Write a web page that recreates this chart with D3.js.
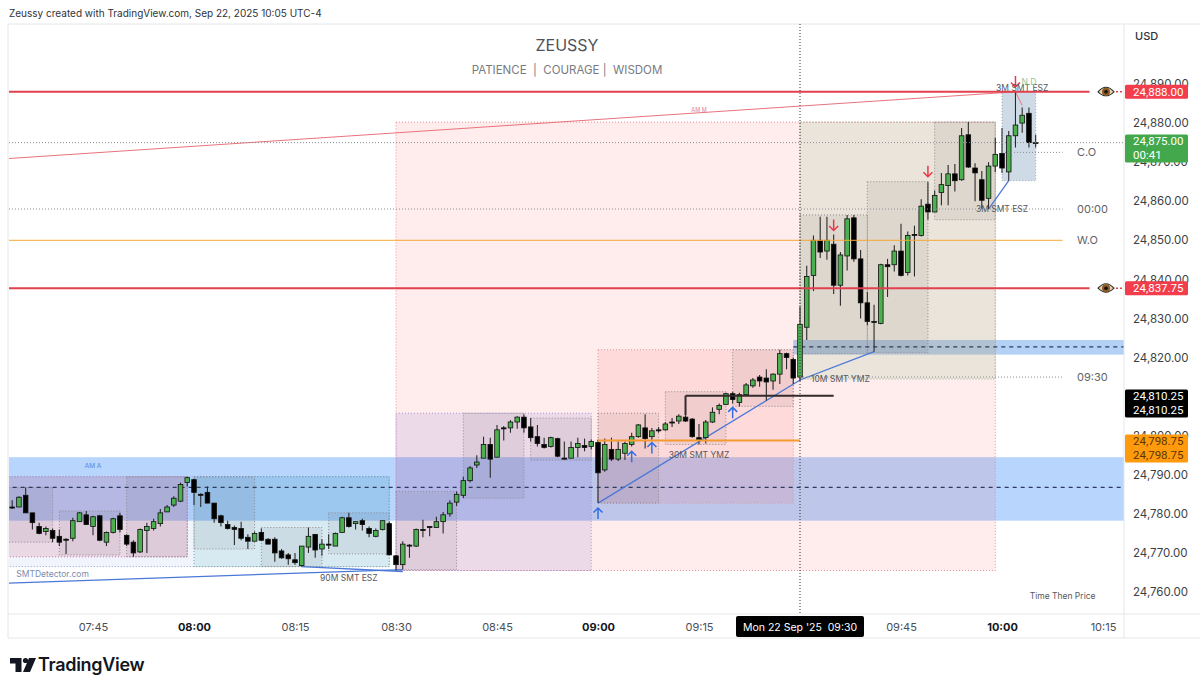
<!DOCTYPE html>
<html>
<head>
<meta charset="utf-8">
<script src="https://cdn.jsdelivr.net/npm/d3@7/dist/d3.min.js"></script>
<style>
body { margin: 0; background: #fff; }
text { font-family: Inter, "Noto Sans", sans-serif; }
</style>
</head>
<body>
<script>
var w = 1200;
var h = 690;

// one minute bars, first one is 07:33
var firstBar = "07:33";
var opens = [
24781.75,24781.75,24784.75,24780.25,24776.75,24775.5,24775.75,24774.25,24773.5,24773.75,
24778,24779.75,24776.75,24779.5,24772.75,24775.25,24779.5,24774.5,24772.75,24770.25,
24775.75,24776.25,24777.5,24780.5,24782.25,24783.25,24788,24788.75,24785,24785.5,
24782.75,24779.5,24777.25,24776.5,24776.25,24774,24773,24775.25,24773.5,24773.5,
24770.5,24769.5,24768.25,24766.75,24771.5,24774.75,24771,24772.25,24771.75,24775.25,
24779,24777.5,24778.25,24776.25,24774.25,24776,24777.5,24769.25,24767,24772,
24771.75,24776,24776.75,24776.5,24778,24780,24783,24784.75,24788.5,24792.5,
24794.25,24797.75,24794.5,24802,24802,24803.5,24804.75,24802.25,24799.75,24797.75,
24797.25,24799.25,24794.25,24794.25,24797,24797.5,24797.25,24798.25,24791.25,24796.5,
24794,24795.5,24797.75,24799.75,24802,24799.75,24801.5,24801.5,24803.5,24803.75,
24804.75,24804.25,24799.5,24799.5,24803.5,24806.75,24808,24810.75,24808.5,24810.5,
24812.75,24815,24814.75,24814,24815.75,24821,24819.5,24815,24827.75,24841,
24850,24847.25,24849,24838.5,24846,24855.75,24845.25,24834,24829.25,24828.75,
24843.75,24843.75,24847.25,24841.75,24851.5,24851.25,24859.25,24857.25,24862.25,24864,
24867,24865.5,24877,24868.5,24865.5,24860.75,24869,24872.25,24867.5,24876.75,
24880,24882.5,24875];
var highs = [
24783.5,24784.5,24786.75,24780.25,24777.75,24776.75,24776.25,24776,24773.75,24779,
24780.5,24780.75,24779.5,24779.75,24775.5,24779,24780.25,24774.75,24773.25,24776.25,
24777.75,24778.75,24781.25,24782.25,24784.5,24788,24789.5,24789,24785.25,24787,
24782.75,24779.75,24778.25,24777,24778,24774.75,24775.5,24776.25,24773.75,24774,
24771,24770,24770,24771.75,24776.5,24774.75,24773.5,24774.75,24775.25,24779.25,
24780.25,24778,24778.75,24776.75,24776.25,24778.25,24778,24769.5,24773,24772.25,
24776.25,24778.5,24776.75,24779.25,24780.5,24783.5,24785.75,24789.5,24792.25,24795,
24799.75,24799.5,24802.75,24802.5,24804,24805,24805.5,24804.5,24802.75,24799.5,
24799.75,24799.5,24798.5,24798.5,24799.5,24799.25,24799,24799,24799.25,24799.5,
24798.5,24798.5,24800.75,24803,24805.5,24802,24802.25,24803.5,24804.5,24805.5,
24805.25,24804.5,24803,24804,24807.25,24808.25,24811,24811.25,24811,24813.5,
24814.75,24815.5,24817,24816,24822,24821.25,24820,24833,24843.5,24851.25,
24856,24856,24851.5,24847,24856.5,24856.5,24847.5,24836.75,24833.5,24844,
24845.25,24848.75,24854.25,24852.25,24853.75,24860.5,24865,24862.75,24867.25,24869.25,
24869.5,24878.75,24880.25,24869.75,24867.75,24870,24876.25,24878.75,24878,24888,
24884,24884,24877];
var lows = [
24781.25,24781.75,24780.25,24776,24774.75,24774.5,24772.75,24771.75,24769.75,24773,
24778,24777.25,24774.5,24773,24771.75,24775,24775.25,24771.75,24769,24770,
24770,24775.75,24776.75,24780.5,24781.75,24783,24787,24782.25,24781.75,24782.75,
24777.75,24776.75,24776,24772,24773.25,24771,24773,24773,24772.25,24767.75,
24768.5,24767,24767,24766.5,24770,24768.75,24769.25,24771,24771.75,24775.25,
24776.5,24776,24775.75,24774,24774,24775.75,24769.5,24765.5,24765.75,24768.75,
24771.5,24774,24774.25,24776.5,24775,24779.25,24782,24784,24788,24791.75,
24794.25,24789.25,24794.5,24798.75,24800.75,24801.75,24800.75,24798.5,24797.25,24796.75,
24797,24794.5,24794,24794.25,24794.5,24796,24796.5,24782.75,24790.75,24793.5,
24793.5,24793.75,24797.25,24799.5,24796.75,24798.75,24800.75,24801.25,24802.25,24803,
24803.5,24799.5,24797.75,24798,24803.25,24805.5,24808,24808.25,24807.5,24810.25,
24812.25,24812.5,24809,24811.75,24813.25,24817,24813.25,24814,24824.5,24837,
24845.5,24845,24836.25,24833.25,24842.25,24844.5,24830,24828.25,24821.5,24828.5,
24835.5,24842,24840.75,24841,24840.75,24851,24855.25,24857.25,24859,24859,
24862.5,24865.25,24868.5,24860,24858,24858,24867.5,24867.25,24865.25,24873.75,
24877.5,24873.75,24873.75];
var closes = [
24781.5,24784.25,24780.25,24777.75,24775,24776.25,24773.75,24772.75,24773.25,24778.25,
24780.25,24777.25,24779.25,24773.25,24775.25,24778.75,24776,24772.25,24770,24776,
24776.75,24778,24780.25,24781.75,24784,24787.5,24789.25,24785.5,24784.75,24782.75,
24778.75,24777.75,24776.25,24776,24773.75,24773,24775,24773.25,24772.25,24770,
24768.75,24768.5,24767.5,24771.75,24774.25,24770.75,24772.25,24772,24775,24779,
24776.75,24778,24777.25,24775,24775.75,24778.25,24769.5,24767,24772.25,24771.75,
24776,24775.75,24776.5,24778,24779.75,24782.75,24785,24788.5,24791.75,24793.25,
24797.75,24794,24801.5,24801.75,24803.5,24804.75,24802,24799.5,24798,24797,
24799.5,24794.75,24794,24797,24798,24797,24798.5,24790.5,24797.75,24794,
24796.5,24798,24799.75,24802.75,24799.25,24801.25,24801.25,24803,24803.25,24805,
24803.75,24799.75,24799,24803.5,24806,24807.75,24810.75,24809.25,24810.5,24813,
24814.25,24814,24813.75,24815.75,24821,24820,24814.75,24828.5,24840.75,24850,
24847,24850,24838.5,24846.25,24855.5,24845.25,24834,24829.25,24829,24843.75,
24843.25,24847.25,24841,24851.25,24851.25,24858.75,24857.25,24861.5,24864.25,24867,
24865.25,24876.75,24868.75,24867.25,24860.25,24869,24872,24868.5,24876.75,24879.5,
24882,24875,24875];

var timeTicks = ["07:45","08:00","08:15","08:30","08:45","09:00","09:15","09:45","10:00","10:15"];
var boldTicks = ["08:00","09:00","10:00"];
var priceTicks = [24760,24770,24780,24790,24800,24810,24820,24830,24840,24850,24860,24870,24880,24890];

// start, end, top price, bottom price, kind
var zones = [
  ["07:20","08:29",24789.5,24766.5,"lav"],
  ["08:30","09:59",24880.25,24765.5,"pink"],
  ["07:20","07:59",24789.5,24769,"rose"],
  ["07:20","07:39",24786.75,24772.75,"sub"],
  ["07:40","07:49",24780.75,24769.5,"sub"],
  ["07:50","07:59",24789.5,24769,"sub"],
  ["08:00","08:29",24789.5,24766.5,"teal"],
  ["08:00","08:09",24789.5,24771,"sub"],
  ["08:10","08:19",24776.5,24766.5,"sub"],
  ["08:20","08:29",24780.25,24769.75,"sub"],
  ["08:30","08:59",24805.75,24765.5,"purple"],
  ["08:30","08:39",24785.75,24765.75,"sub"],
  ["08:40","08:49",24805.75,24784,"sub"],
  ["08:50","08:59",24804.5,24793.75,"sub"],
  ["09:00","09:29",24822,24782.75,"rose2"],
  ["09:00","09:09",24805.75,24782.75,"sub"],
  ["09:10","09:19",24811.25,24797.75,"sub"],
  ["09:20","09:29",24822,24807.5,"sub"],
  ["09:30","09:59",24880.25,24814.5,"olive"],
  ["09:30","09:40",24856.5,24821,"sub"],
  ["09:40","09:49",24865,24821.25,"sub"],
  ["09:50","09:59",24880.25,24855.25,"sub"],
  ["10:00","10:05",24888,24865.25,"steel"]
];
var zoneFill = {
  lav: "rgba(80,110,225,0.08)", pink: "rgba(255,85,85,0.11)", rose: "rgba(205,95,130,0.19)",
  teal: "rgba(0,150,136,0.10)", purple: "rgba(80,60,210,0.10)", rose2: "rgba(255,70,70,0.11)",
  olive: "rgba(120,190,120,0.15)", steel: "rgba(30,90,140,0.22)", sub: "rgba(70,60,70,0.075)"
};
var zoneLine = {
  lav: "#8a9bd8", pink: "#ec8f98", rose: "#c583a0", teal: "#6aa8a0", purple: "#a99bdc",
  rose2: "#d99aa0", olive: "#a4b09a", steel: "#9aa6ad", sub: "#8f8a8f"
};

// session bands
var bands = [
  {start: "07:20", end: "10:30", top: 24794.5, bottom: 24778.25, mid: 24786.75, tone: "rgba(66,145,250,0.38)"},
  {start: "09:29", end: "10:30", top: 24824.5, bottom: 24820.75, mid: 24822.75, tone: "rgba(55,135,225,0.38)"}
];

// price levels with their end labels
var levels = [
  {price: 24850, start: "07:20", end: "10:09", kind: "orange", label: "W.O"},
  {price: 24858, start: "07:20", end: "10:09", kind: "dots", label: "00:00"},
  {price: 24872.5, start: "10:00", end: "10:09", kind: "dots", label: "C.O"},
  {price: 24815, start: "09:30", end: "10:09", kind: "dots", label: "09:30"},
  {price: 24875, start: "07:20", end: "10:30", kind: "dots", label: ""},
  {price: 24888, start: "07:20", end: "10:13", kind: "red", label: ""},
  {price: 24837.75, start: "07:20", end: "10:13", kind: "red", label: ""},
  {price: 24798.75, start: "09:00", end: "09:30", kind: "thickOrange", label: ""},
  {price: 24810.25, start: "09:13", end: "09:35", kind: "black", label: ""}
];
var eyePrices = [24888, 24837.75];

// trend lines, [time, price] pairs
var trendLines = [
  {kind: "blue", pts: [["07:20",24761.5],["08:31",24765.75]]},
  {kind: "blue", pts: [["08:16",24766.5],["08:31",24765.25]]},
  {kind: "blue", pts: [["09:00",24782.75],["09:30",24814.25],["09:41",24821.5]]},
  {kind: "blue", pts: [["09:58",24858],["10:01",24865.25]]},
  {kind: "red", pts: [["07:20",24869.5],["10:02",24888],["10:03",24884.5]]},
  {kind: "black", pts: [["09:13",24805.25],["09:13",24810.25]]}
];

var upArrows = [["09:00",24781.5],["09:05",24796],["09:08",24798.25],["09:20",24807.25]];
var downArrows = [["09:35",24852.5],["09:49",24866.25],["10:02",24889.25]];

// chart notes, [time, price, text, kind]
var notes = [
  ["08:23",24763.5,"90M SMT ESZ","smt"],
  ["09:15",24795,"30M SMT YMZ","smt"],
  ["09:36",24814.5,"10M SMT YMZ","smt"],
  ["10:00",24858,"3M SMT ESZ","smt"],
  ["10:03",24889,"3M SMT ESZ","smt"],
  ["10:04",24890.5,"N.D","green"],
  ["07:45",24792.5,"AM A","tinyBlue"],
  ["09:15",24883.5,"AM M","tinyRed"],
  ["07:39",24764.5,"SMTDetector.com","site"],
  ["10:09",24759,"Time Then Price","smt"]
];

// right axis tags
var tags = [
  {price: 24888, lines: ["24,888.00"], fill: "#f23d4c", ink: "#fff"},
  {price: 24837.75, lines: ["24,837.75"], fill: "#f23d4c", ink: "#fff"},
  {price: 24873.5, lines: ["24,875.00","00:41"], fill: "#43a84b", ink: "#fff"},
  {price: 24808.25, lines: ["24,810.25","24,810.25"], fill: "#000", ink: "#fff"},
  {price: 24796.75, lines: ["24,798.75","24,798.75"], fill: "#ff9a0d", ink: "#5c3500"}
];

var svg = d3.select("body").append("svg")
    .attr("width", w)
    .attr("height", h);

var parseT = d3.timeParse("%H:%M");
var fmtT = d3.timeFormat("%H:%M");

var x = d3.scaleTime()
    .domain([parseT("07:45"), parseT("10:00")])
    .range([93, 1002]);
var y = d3.scaleLinear()
    .domain([24760, 24890])
    .range([592, 84]);

var left = 9, right = 1124, top_ = 24, bottom = 614;

svg.append("clipPath").attr("id", "plot")
  .append("rect")
    .attr("x", left).attr("y", top_)
    .attr("width", right - left).attr("height", bottom - top_);

var plot = svg.append("g").attr("clip-path", "url(#plot)");

// frame
var frame = [[8,24,1200,24],[8,24,8,638],[8,614,1200,614],[8,638,1200,638],[1124,24,1124,638]];
svg.selectAll(".frame").data(frame).enter().append("line")
    .attr("x1", function(d){ return d[0]; })
    .attr("y1", function(d){ return d[1]; })
    .attr("x2", function(d){ return d[2]; })
    .attr("y2", function(d){ return d[3]; })
    .attr("stroke", "#e4e6ea");

// bands
plot.selectAll(".band").data(bands).enter().append("rect")
    .attr("x", function(d){ return x(parseT(d.start)); })
    .attr("y", function(d){ return y(d.top); })
    .attr("width", function(d){ return x(parseT(d.end)) - x(parseT(d.start)); })
    .attr("height", function(d){ return y(d.bottom) - y(d.top); })
    .attr("fill", function(d){ return d.tone; });

// zones
plot.selectAll(".zone").data(zones).enter().append("rect")
    .attr("x", function(d){ return x(parseT(d[0])); })
    .attr("y", function(d){ return y(d[2]); })
    .attr("width", function(d){ return x(parseT(d[1])) - x(parseT(d[0])); })
    .attr("height", function(d){ return y(d[3]) - y(d[2]); })
    .attr("fill", function(d){ return zoneFill[d[4]]; })
    .attr("stroke", function(d){ return zoneLine[d[4]]; })
    .attr("stroke-width", 1)
    .attr("stroke-dasharray", "1 2");

plot.selectAll(".mid").data(bands).enter().append("line")
    .attr("x1", function(d){ return x(parseT(d.start)); })
    .attr("x2", function(d){ return x(parseT(d.end)); })
    .attr("y1", function(d){ return y(d.mid); })
    .attr("y2", function(d){ return y(d.mid); })
    .attr("stroke", "#2e3a5e")
    .attr("stroke-width", 1.2)
    .attr("stroke-dasharray", "4 4");

// levels
var levelStyle = {
  orange: {c: "#f6a835", w: 1, dash: null},
  thickOrange: {c: "#f49a30", w: 2, dash: null},
  dots: {c: "#8a8d94", w: 1, dash: "1 2"},
  red: {c: "#e2404f", w: 2, dash: null},
  black: {c: "#332a2a", w: 2, dash: null}
};
svg.append("g").selectAll("line").data(levels).enter().append("line")
    .attr("x1", function(d){ return Math.max(left, x(parseT(d.start))); })
    .attr("x2", function(d){ return Math.min(right, x(parseT(d.end))); })
    .attr("y1", function(d){ return y(d.price); })
    .attr("y2", function(d){ return y(d.price); })
    .attr("stroke", function(d){ return levelStyle[d.kind].c; })
    .attr("stroke-width", function(d){ return levelStyle[d.kind].w; })
    .attr("stroke-dasharray", function(d){ return levelStyle[d.kind].dash; });

svg.append("g").selectAll("text").data(levels.filter(function(d){ return d.label; })).enter().append("text")
    .attr("x", 1077)
    .attr("y", function(d){ return y(d.price) + 4; })
    .attr("font-size", 11)
    .attr("fill", "#5f6368")
    .text(function(d){ return d.label; });

// trend lines
var lineGen = d3.line()
    .x(function(d){ return x(parseT(d[0])); })
    .y(function(d){ return y(d[1]); });
var trendStyle = {blue: {c: "#4a78d8", w: 1.3}, red: {c: "#e8737c", w: 1}, black: {c: "#332a2a", w: 2}};
plot.selectAll(".trend").data(trendLines).enter().append("path")
    .attr("d", function(d){ return lineGen(d.pts); })
    .attr("fill", "none")
    .attr("stroke", function(d){ return trendStyle[d.kind].c; })
    .attr("stroke-width", function(d){ return trendStyle[d.kind].w; });

// candles
var bars = opens.map(function(o, i){
    return {t: d3.timeMinute.offset(parseT(firstBar), i), o: o, h: highs[i], l: lows[i], c: closes[i]};
});
var candle = plot.selectAll(".candle").data(bars).enter().append("g");
candle.append("line")
    .attr("x1", function(d){ return x(d.t); })
    .attr("x2", function(d){ return x(d.t); })
    .attr("y1", function(d){ return y(d.h); })
    .attr("y2", function(d){ return y(d.l); })
    .attr("stroke", "#2a2a2a")
    .attr("stroke-width", 1.1);
candle.append("rect")
    .attr("x", function(d){ return x(d.t) - 2.3; })
    .attr("width", 4.6)
    .attr("y", function(d){ return y(Math.max(d.o, d.c)); })
    .attr("height", function(d){ return Math.max(1, Math.abs(y(d.o) - y(d.c))); })
    .attr("fill", function(d){ return d.c >= d.o ? "#4caf50" : "#000"; })
    .attr("stroke", "#111")
    .attr("stroke-width", 0.8);

// arrows
svg.append("g").selectAll("path").data(upArrows).enter().append("path")
    .attr("transform", function(d){ return "translate(" + x(parseT(d[0])) + "," + y(d[1]) + ")"; })
    .attr("d", "M0 11V0M-4.5 4.5L0 0L4.5 4.5")
    .attr("fill", "none").attr("stroke", "#2f6fe8").attr("stroke-width", 1.5);
svg.append("g").selectAll("path").data(downArrows).enter().append("path")
    .attr("transform", function(d){ return "translate(" + x(parseT(d[0])) + "," + y(d[1]) + ")"; })
    .attr("d", "M0 -11V0M-4.5 -4.5L0 0L4.5 -4.5")
    .attr("fill", "none").attr("stroke", "#e8394c").attr("stroke-width", 1.5);

// crosshair
svg.append("line")
    .attr("x1", x(parseT("09:30"))).attr("x2", x(parseT("09:30")))
    .attr("y1", top_).attr("y2", bottom)
    .attr("stroke", "#333")
    .attr("stroke-dasharray", "1 2");

// notes
var noteStyle = {
  smt: {size: 8.5, fill: "#55585e"},
  green: {size: 8.5, fill: "#8cc49a"},
  tinyBlue: {size: 6.5, fill: "#5a86d8"},
  tinyRed: {size: 5.5, fill: "#e0808a"},
  site: {size: 8.5, fill: "#7d8cab"}
};
svg.append("g").selectAll("text").data(notes).enter().append("text")
    .attr("x", function(d){ return x(parseT(d[0])); })
    .attr("y", function(d){ return y(d[1]) + 3; })
    .attr("text-anchor", "middle")
    .attr("font-size", function(d){ return noteStyle[d[3]].size; })
    .attr("fill", function(d){ return noteStyle[d[3]].fill; })
    .text(function(d){ return d[2]; });

// eyes next to the red levels
var eye = svg.append("g").selectAll("g").data(eyePrices).enter().append("g")
    .attr("transform", function(d){ return "translate(1106," + y(d) + ")"; });
eye.append("path")
    .attr("d", "M-8 0Q0 -9 8 0Q0 8 -8 0Z")
    .attr("fill", "#e6d3b4").attr("stroke", "#2b2b2b").attr("stroke-width", 1.1);
eye.append("circle").attr("r", 4).attr("fill", "#8a5a22");
eye.append("circle").attr("r", 1.8).attr("fill", "#111");
eye.append("line")
    .attr("x1", 10).attr("x2", 18)
    .attr("stroke", "#e2404f").attr("stroke-width", 1.5).attr("stroke-dasharray", "2 2");

// axes
var yAxis = svg.append("g")
    .attr("transform", "translate(1124,0)")
    .call(d3.axisRight(y).tickValues(priceTicks).tickFormat(d3.format(",.2f")).tickSize(0).tickPadding(9));
yAxis.select(".domain").remove();
yAxis.selectAll("text").attr("font-size", 11.5).attr("fill", "#3c3f45").attr("font-family", "Roboto");

var xAxis = svg.append("g")
    .attr("transform", "translate(0,614)")
    .call(d3.axisBottom(x).tickValues(timeTicks.map(parseT)).tickFormat(fmtT).tickSize(0).tickPadding(9));
xAxis.select(".domain").remove();
xAxis.selectAll("text")
    .attr("font-size", 11)
    .attr("font-family", "Inter")
    .attr("fill", function(d){ return boldTicks.indexOf(fmtT(d)) >= 0 ? "#131722" : "#4a4e57"; })
    .attr("font-weight", function(d){ return boldTicks.indexOf(fmtT(d)) >= 0 ? 700 : 400; });

// axis tags
var tag = svg.append("g").selectAll("g").data(tags).enter().append("g");
tag.append("rect")
    .attr("x", 1125)
    .attr("y", function(d){ return y(d.price) - (d.lines.length > 1 ? 14 : 7); })
    .attr("width", 63)
    .attr("height", function(d){ return d.lines.length > 1 ? 28 : 14; })
    .attr("rx", 1.5)
    .attr("fill", function(d){ return d.fill; });
tag.each(function(d){
    d3.select(this).selectAll("text").data(d.lines).enter().append("text")
        .attr("x", 1133)
        .attr("y", function(t, i){ return y(d.price) - 7 * d.lines.length + 11 + i * 14; })
        .attr("font-size", 11.5)
        .attr("font-family", "Roboto")
        .attr("style", "font-family:Roboto")
        .attr("fill", d.ink)
        .text(function(t){ return t; });
});

// crosshair date box
svg.append("rect")
    .attr("x", x(parseT("09:30")) - 64).attr("y", 616)
    .attr("width", 128).attr("height", 21).attr("rx", 2).attr("fill", "#000");
svg.append("text")
    .attr("x", x(parseT("09:30"))).attr("y", 631)
    .attr("text-anchor", "middle")
    .attr("font-size", 10.5).attr("fill", "#fff")
    .attr("xml:space", "preserve")
    .text("Mon 22 Sep '25  09:30");

// texts around the chart
svg.append("text").attr("x", 9).attr("y", 17).attr("font-size", 10).attr("fill", "#30333a")
    .text("Zeussy created with TradingView.com, Sep 22, 2025 10:05 UTC-4");
svg.append("text").attr("x", 1135).attr("y", 40).attr("font-size", 11).attr("font-weight", 500).attr("fill", "#30333a")
    .text("USD");
svg.append("text").attr("x", 567).attr("y", 51).attr("text-anchor", "middle")
    .attr("font-size", 16).attr("fill", "#4f5258")
    .text("ZEUSSY");
svg.append("text").attr("x", 567).attr("y", 74).attr("text-anchor", "middle")
    .attr("font-size", 11.5).attr("fill", "#787b82").attr("xml:space", "preserve")
    .text("PATIENCE  |  COURAGE |  WISDOM");

// TradingView logo
svg.append("path")
    .attr("d", "M10 658H21.5V672H15.5V663.5H10ZM29 658H36L30 672H23Z")
    .attr("fill", "#131722");
svg.append("circle").attr("cx", 25.5).attr("cy", 660.5).attr("r", 2.6).attr("fill", "#131722");
svg.append("text").attr("x", 38).attr("y", 671).attr("font-size", 18).attr("font-weight", 600)
    .attr("letter-spacing", -0.3).attr("fill", "#131722")
    .text("TradingView");
</script>
</body>
</html>
